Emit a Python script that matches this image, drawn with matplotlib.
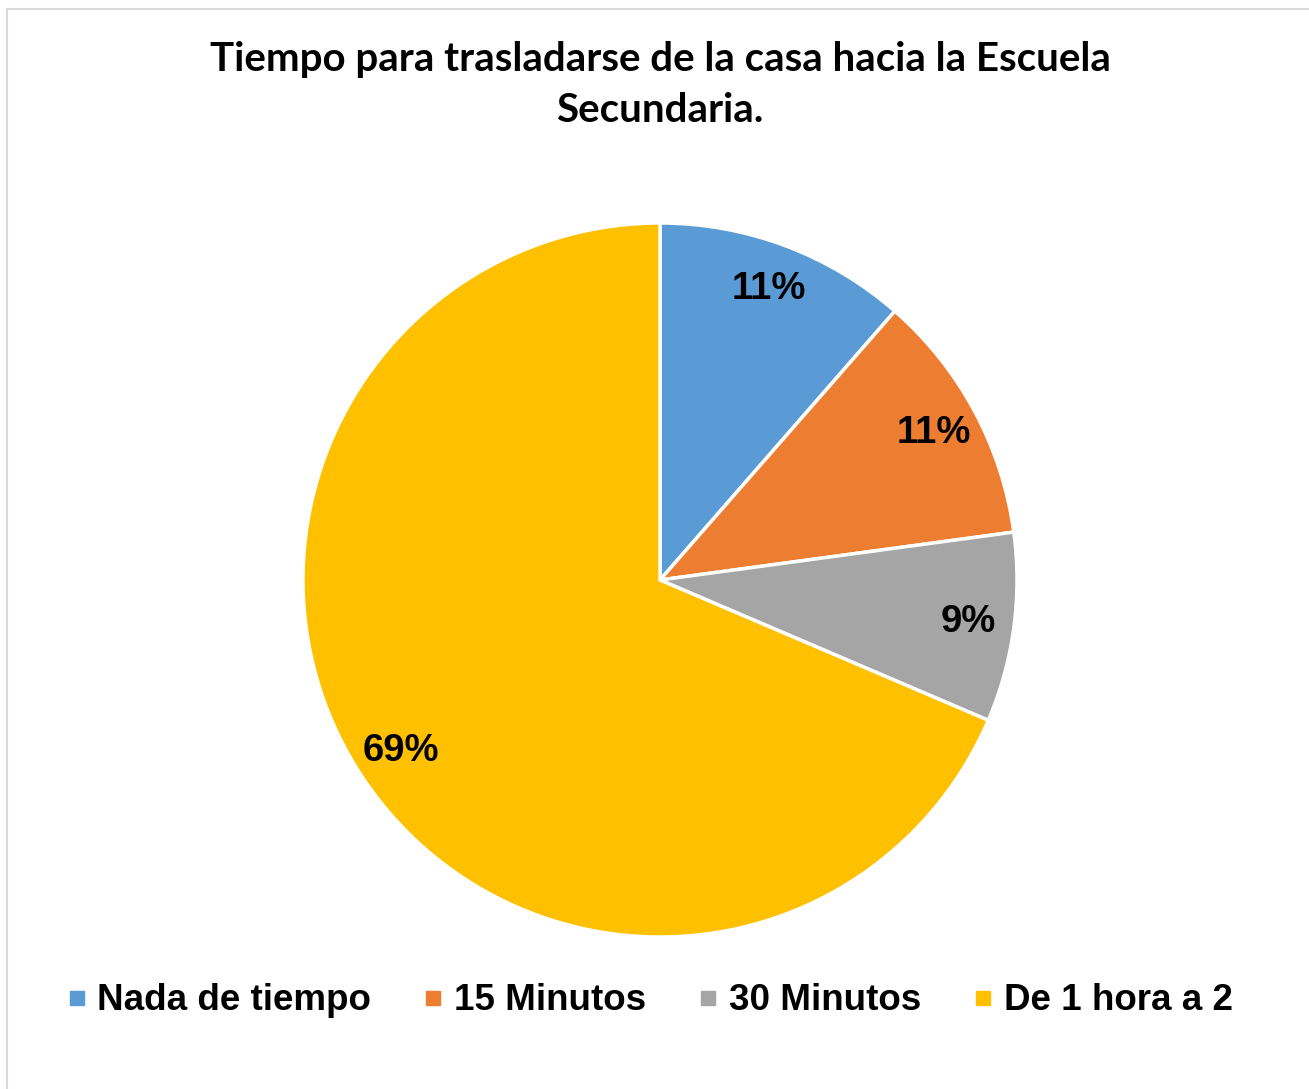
import matplotlib
matplotlib.use("Agg")
import matplotlib.pyplot as plt
from matplotlib.lines import Line2D
from matplotlib.patches import Rectangle

# datos
categorias = ["Nada de tiempo", "15 Minutos", "30 Minutos", "De 1 hora a 2"]
valores = [4, 4, 3, 24]
colores = ["#5B9BD5", "#ED7D31", "#A5A5A5", "#FFC000"]
titulo = "Tiempo para trasladarse de la casa hacia la Escuela\nSecundaria."

W, H = 1309, 1089
fig = plt.figure(figsize=(W / 100, H / 100), dpi=100)

# borde del area del grafico
fig.patches.append(Rectangle((7 / W, -0.05), 1.1, (H - 9) / H + 0.05,
                             transform=fig.transFigure, fill=False,
                             edgecolor="#D9D9D9", linewidth=1.5))

cx, cy, r = 660, 580, 357
ax = fig.add_axes([(cx - r) / W, (H - cy - r) / H, 2 * r / W, 2 * r / H])
wedges, texts, autotexts = ax.pie(
    valores, colors=colores, startangle=90, counterclock=False,
    autopct="%1.0f%%", pctdistance=0.87, radius=1,
    wedgeprops=dict(edgecolor="white", linewidth=2.5),
    textprops=dict(fontsize=27.5, fontweight="bold",
                   family="Liberation Sans", color="black"))
ax.set_xlim(-1, 1)
ax.set_ylim(-1, 1)
ax.set_aspect("equal")
ax.axis("off")

fig.text(cx / W, 1 - 85 / H, titulo, ha="center", va="center",
         fontsize=29, fontweight="bold", family="Lato", linespacing=1.45)

handles = [Line2D([], [], marker="s", linestyle="none", markersize=10,
                  markerfacecolor=c, markeredgecolor=c) for c in colores]
fig.legend(handles, categorias, loc="center", ncol=4,
           bbox_to_anchor=(650 / W, 1 - 1001 / H), frameon=False,
           prop=dict(family="Liberation Sans", weight="bold", size=26.5),
           handlelength=0.5, handletextpad=0.3, columnspacing=1.45)

fig.savefig("out.png", dpi=100, facecolor="white")
